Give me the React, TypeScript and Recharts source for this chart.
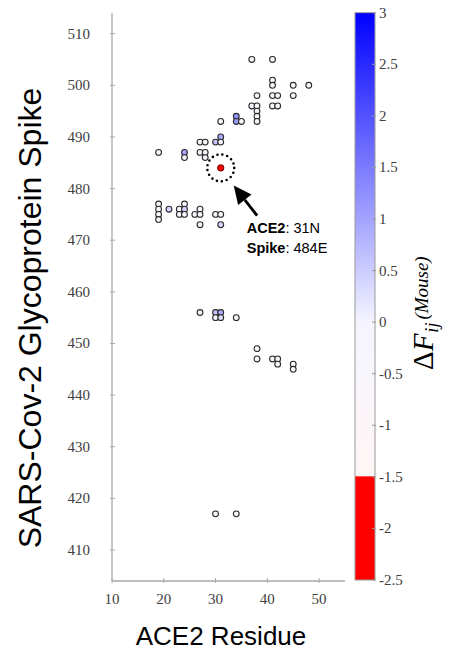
import React from "react";
import { ScatterChart, Scatter, XAxis, YAxis } from "recharts";

// ACE2 residue (x), spike residue (y), ΔF value (colour) for every contact
const ace2Residue = [
  37, 41, 41, 41, 45, 48, 38, 41, 42, 45, 37, 38, 41, 42, 38, 38, 38, 34, 34, 35, 31, 31,
  30, 31, 27, 28, 19, 24, 24, 27, 28, 28,
  19, 19, 19, 19, 21, 24, 23, 24, 23, 24, 27, 26, 27, 27, 30, 31, 31,
  27, 30, 31, 30, 31, 34,
  38, 38, 41, 42, 42, 45, 45,
  30, 34,
];
const spikeResidue = [
  505, 505, 501, 500, 500, 500, 498, 498, 498, 498, 496, 496, 496, 496, 495, 494, 493, 494,
  493, 493, 493, 490, 489, 489, 489, 489, 487, 487, 486, 487, 487, 486,
  477, 476, 475, 474, 476, 477, 476, 476, 475, 475, 476, 475, 475, 473, 475, 475, 473,
  456, 456, 456, 455, 455, 455,
  449, 447, 447, 447, 446, 446, 445,
  417, 417,
];
const deltaF = [
  -0.6, -0.7, -0.5, -0.6, -0.8, -0.6, -0.5, -0.7, -0.6, -0.6, -0.5, -0.6, -0.7, -0.6, -0.5,
  -0.6, -0.7, 1.2, 1.1, -0.5, -0.6, 0.95, 0.6, -0.5, -0.6, -0.7, -0.6, 1.0, -0.5, -0.6, -0.5,
  -0.6,
  -0.6, -0.5, -0.7, -0.6, 0.4, -0.5, -0.6, 0.45, -0.6, -0.5, -0.6, -0.7, -0.5, -0.6, -0.6,
  -0.5, 0.4,
  -0.6, 0.6, 0.9, -0.5, 0.3, -0.6,
  -0.6, -0.5, -0.7, -0.6, -0.5, -0.6, -0.7,
  -0.6, -0.5,
];

// highlighted pair
const highlightAce2 = 31;
const highlightSpike = 484;
const highlightDeltaF = -2.2;
const highlightAce2Aa = "N";
const highlightSpikeAa = "E";

const xTicks = [10, 20, 30, 40, 50];
const yTicks = [410, 420, 430, 440, 450, 460, 470, 480, 490, 500, 510];
const colorTicks = [3, 2.5, 2, 1.5, 1, 0.5, 0, -0.5, -1, -1.5, -2, -2.5];

const points = ace2Residue.map((x, i) => ({ x, y: spikeResidue[i], dF: deltaF[i] }));
const highlight = [{ x: highlightAce2, y: highlightSpike, dF: highlightDeltaF }];

const AXIS_GREY = "#a9a9a9";
const SERIF = "'Liberation Serif', 'Times New Roman', serif";
const SANS = "'Liberation Sans', Arial, Helvetica, sans-serif";

function deltaColor(v: number) {
  if (v <= -1.5) return "rgb(255,0,0)";
  if (v < 0) {
    const t = (v + 1.5) / 1.5;
    return `rgb(${Math.round(255 - 10 * t)},245,${Math.round(245 + 10 * t)})`;
  }
  const t = Math.min(v / 3, 1);
  const c = Math.round(245 * (1 - t));
  return `rgb(${c},${c},255)`;
}

const Dot = (props: any) => {
  const { cx, cy, payload } = props;
  return (
    <circle cx={cx} cy={cy} r={2.9} fill={deltaColor(payload.dF)} stroke="#2b2b2b" strokeWidth={1.1} />
  );
};

const HighlightDot = (props: any) => {
  const { cx, cy, payload } = props;
  const r = 13.5;
  const gap = (2 * Math.PI * r) / 17;
  // arrow pointing from the label up to the circle
  const tip = [cx + 13, cy + 17.7];
  const ux = 0.615;
  const uy = 0.788;
  const base = [tip[0] + 18 * ux, tip[1] + 18 * uy];
  const c1 = [base[0] + 8.5 * uy, base[1] - 8.5 * ux];
  const c2 = [base[0] - 8.5 * uy, base[1] + 8.5 * ux];
  return (
    <g>
      <circle
        cx={cx}
        cy={cy}
        r={r}
        fill="none"
        stroke="#000"
        strokeWidth={2.6}
        strokeLinecap="round"
        strokeDasharray={`0 ${gap}`}
      />
      <circle cx={cx} cy={cy} r={3.2} fill={deltaColor(payload.dF)} stroke="#6b0000" strokeWidth={1} />
      <line x1={base[0]} y1={base[1]} x2={cx + 36.4} y2={cy + 47.7} stroke="#000" strokeWidth={2.8} />
      <polygon points={`${tip[0]},${tip[1]} ${c1[0]},${c1[1]} ${c2[0]},${c2[1]}`} fill="#000" />
      <text x={cx + 26} y={cy + 65} fontFamily={SANS} fontSize={14.5} fill="#000">
        <tspan fontWeight="bold">ACE2</tspan>
        <tspan>{`: ${payload.x}${highlightAce2Aa}`}</tspan>
      </text>
      <text x={cx + 26} y={cy + 85} fontFamily={SANS} fontSize={14.5} fill="#000">
        <tspan fontWeight="bold">Spike</tspan>
        <tspan>{`: ${payload.y}${highlightSpikeAa}`}</tspan>
      </text>
    </g>
  );
};

const XTick = (props: any) => {
  const { x, y, payload } = props;
  return (
    <g>
      <line x1={x} y1={y} x2={x} y2={y - 5} stroke={AXIS_GREY} strokeWidth={1} />
      <text x={x} y={y + 21} textAnchor="middle" fontFamily={SERIF} fontSize={15} fill="#404040">
        {payload.value}
      </text>
    </g>
  );
};

const YTick = (props: any) => {
  const { x, y, payload } = props;
  return (
    <g>
      <line x1={x} y1={y} x2={x + 5} y2={y} stroke={AXIS_GREY} strokeWidth={1} />
      <text x={x - 20} y={y + 5} textAnchor="end" fontFamily={SERIF} fontSize={15} fill="#404040">
        {payload.value}
      </text>
    </g>
  );
};

function Colorbar() {
  const x0 = 355;
  const w = 20;
  const top = 12.7;
  const bottom = 580;
  const vMax = colorTicks[0];
  const vMin = colorTicks[colorTicks.length - 1];
  const yOf = (v: number) => top + ((vMax - v) / (vMax - vMin)) * (bottom - top);
  const stops = [3, 2.5, 2, 1.5, 1, 0.5, 0, -0.5, -1, -1.49];
  const split = (vMax - -1.5) / (vMax - vMin);
  return (
    <g>
      <defs>
        <linearGradient id="cbar" x1="0" y1="0" x2="0" y2="1">
          {stops.map((v) => (
            <stop key={v} offset={(vMax - v) / (vMax - vMin)} stopColor={deltaColor(v)} />
          ))}
          <stop offset={split} stopColor="rgb(255,0,0)" />
          <stop offset={1} stopColor="rgb(255,0,0)" />
        </linearGradient>
      </defs>
      <rect x={x0} y={top} width={w} height={bottom - top} fill="url(#cbar)" stroke="#9a9a9a" strokeWidth={1} />
      {colorTicks.map((v) => (
        <g key={v}>
          <line x1={x0 + w - 3} x2={x0 + w + 1} y1={yOf(v)} y2={yOf(v)} stroke="#9a9a9a" strokeWidth={1} />
          <text x={x0 + w + 4} y={yOf(v) + 5} fontFamily={SERIF} fontSize={15} fill="#404040">
            {v}
          </text>
        </g>
      ))}
      <g transform="translate(433,370) rotate(-90)">
        <text x={0} y={0} fontFamily={SERIF} fontSize={29} fill="#000">
          <tspan>Δ</tspan>
          <tspan fontStyle="italic">F</tspan>
          <tspan fontStyle="italic" fontSize={18} dx={1} dy={5}>
            ij
          </tspan>
          <tspan fontStyle="italic" fontSize={19} dx={3} dy={-10}>
            (Mouse)
          </tspan>
        </text>
      </g>
    </g>
  );
}

export default function App() {
  return (
    <div style={{ position: "absolute", left: 0, top: 0, width: 457, height: 654, background: "#fff" }}>
      <ScatterChart width={457} height={654} margin={{ top: 13, right: 112, bottom: 43, left: 52 }}>
        <XAxis
          type="number"
          dataKey="x"
          domain={[10, 55]}
          ticks={xTicks}
          interval={0}
          height={30}
          tickSize={0}
          tickLine={false}
          tick={<XTick />}
          axisLine={{ stroke: AXIS_GREY, strokeWidth: 1.3 }}
          allowDataOverflow
        />
        <YAxis
          type="number"
          dataKey="y"
          domain={[404, 514]}
          ticks={yTicks}
          interval={0}
          width={60}
          tickSize={0}
          tickLine={false}
          tick={<YTick />}
          axisLine={{ stroke: AXIS_GREY, strokeWidth: 1.3 }}
          allowDataOverflow
        />
        <Scatter data={points} shape={<Dot />} isAnimationActive={false} />
        <Scatter data={highlight} shape={<HighlightDot />} isAnimationActive={false} />
      </ScatterChart>
      <svg
        width={457}
        height={654}
        style={{ position: "absolute", left: 0, top: 0, pointerEvents: "none" }}
      >
        <text
          transform="translate(41,318) rotate(-90)"
          textAnchor="middle"
          fontFamily={SANS}
          fontSize={32}
          fill="#000"
        >
          SARS-Cov-2 Glycoprotein Spike
        </text>
        <text x={221} y={645} textAnchor="middle" fontFamily={SANS} fontSize={26} fill="#000">
          ACE2 Residue
        </text>
        <Colorbar />
      </svg>
    </div>
  );
}
